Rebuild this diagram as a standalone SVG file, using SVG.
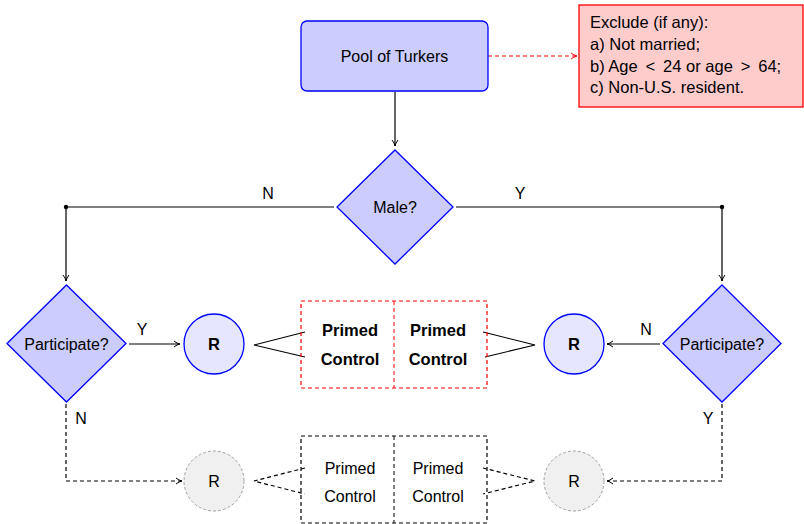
<svg xmlns="http://www.w3.org/2000/svg" width="804" height="524" viewBox="0 0 804 524">
<style>
text{font-family:"Liberation Sans",Arial,sans-serif;font-size:16px;fill:#000}
.c{text-anchor:middle;dominant-baseline:central}
.b{font-weight:bold;font-size:16.5px}
.ex{font-size:16.5px}
.dec{fill:#ccccff;stroke:#0000ff;stroke-width:1.3}
.rc{fill:#e6e6ff;stroke:#0000ff;stroke-width:1.3}
.rg{fill:#f0f0f0;stroke:#a0a0a0;stroke-width:1;stroke-dasharray:3,2}
.ln{fill:none;stroke:#000;stroke-width:1.2}
.dl{fill:none;stroke:#000;stroke-width:1.2;stroke-dasharray:4,3}
</style>
<defs>
<marker id="ah" viewBox="0 0 8 8" refX="7" refY="4" markerWidth="8" markerHeight="8" markerUnits="userSpaceOnUse" orient="auto">
<path d="M1,1 Q4,3.5 7,4 Q4,4.5 1,7" fill="none" stroke="#000" stroke-width="1"/>
</marker>
<marker id="ahr" viewBox="0 0 8 8" refX="7" refY="4" markerWidth="8" markerHeight="8" markerUnits="userSpaceOnUse" orient="auto">
<path d="M1,1 Q4,3.5 7,4 Q4,4.5 1,7" fill="none" stroke="#ff0000" stroke-width="1"/>
</marker>
</defs>
<g id="connectors">
<path class="ln" d="M395,92 V146" marker-end="url(#ah)"/>
<path d="M488,56 H577" fill="none" stroke="#ff0000" stroke-width="1.2" stroke-dasharray="4,3" marker-end="url(#ahr)"/>
<path class="ln" d="M334,207 H66 V281" stroke="#333" marker-end="url(#ah)"/>
<circle cx="66" cy="207" r="2.2" fill="#000"/>
<text class="c" x="268" y="193">N</text>
<path class="ln" d="M456,207 H722 V281" stroke="#333" marker-end="url(#ah)"/>
<circle cx="722" cy="207" r="2.2" fill="#000"/>
<text class="c" x="520" y="193">Y</text>
<path class="ln" d="M129,344 H180" marker-end="url(#ah)"/>
<text class="c" x="142" y="329">Y</text>
<path class="ln" d="M660,344 H607" marker-end="url(#ah)"/>
<text class="c" x="646" y="329">N</text>
<path class="ln" d="M305,332 L254,345 L305,357"/>
<path class="ln" d="M483,332 L535,345 L485,357"/>
<path class="dl" d="M66,404 V481 H182" marker-end="url(#ah)"/>
<text class="c" x="81" y="418">N</text>
<path class="dl" d="M722,404 V481 H607" marker-end="url(#ah)"/>
<text class="c" x="708" y="418">Y</text>
<path class="dl" d="M305,468 L254,481 L305,494"/>
<path class="dl" d="M483,468 L535,481 L483,494"/>
</g>
<g id="pool">
<rect x="301" y="21" width="187" height="70" rx="6" fill="#ccccff" stroke="#0000ff" stroke-width="1.3"/>
<text class="c" x="394.5" y="56">Pool of Turkers</text>
</g>
<g id="exclude">
<rect x="579" y="5" width="224" height="102" fill="#ffcccc" stroke="#ff0000" stroke-width="1.3"/>
<text class="ex" x="590" y="28">Exclude (if any):</text>
<text class="ex" x="590" y="50">a) Not married;</text>
<text class="ex" x="590" y="72">b) Age&#160;&#8201;&lt;&#160;&#8201;24 or age&#160;&#8201;&gt;&#160;&#8201;64;</text>
<text class="ex" x="590" y="93">c) Non-U.S. resident.</text>
</g>
<g id="male">
<path class="dec" d="M395,150 L453,207 L395,264 L337,207 Z"/>
<text class="c" x="395" y="207">Male?</text>
</g>
<g id="participate-left">
<path class="dec" d="M66.5,285 L126,343.5 L66.5,402 L7,343.5 Z"/>
<text class="c" x="66.5" y="344">Participate?</text>
</g>
<g id="participate-right">
<path class="dec" d="M722,285 L781,343.5 L722,402 L663,343.5 Z"/>
<text class="c" x="722" y="344">Participate?</text>
</g>
<g id="r-left">
<circle class="rc" cx="214" cy="344" r="30"/>
<text class="c b" x="214" y="344">R</text>
</g>
<g id="r-right">
<circle class="rc" cx="574" cy="344" r="30"/>
<text class="c b" x="574" y="344">R</text>
</g>
<g id="groups-top">
<rect x="301" y="301" width="186" height="87" fill="none" stroke="#ff0000" stroke-width="1.2" stroke-dasharray="4,3"/>
<line x1="394" y1="301" x2="394" y2="388" stroke="#ff0000" stroke-width="1" stroke-dasharray="4,3"/>
<text class="c b" x="350" y="330">Primed</text>
<text class="c b" x="350" y="359">Control</text>
<text class="c b" x="438" y="330">Primed</text>
<text class="c b" x="438" y="359">Control</text>
</g>
<g id="r-left-bottom">
<circle class="rg" cx="214" cy="481" r="30"/>
<text class="c" x="214" y="481">R</text>
</g>
<g id="r-right-bottom">
<circle class="rg" cx="574" cy="481" r="30"/>
<text class="c" x="574" y="481">R</text>
</g>
<g id="groups-bottom">
<rect x="301" y="436" width="186" height="87" fill="none" stroke="#000" stroke-width="1.2" stroke-dasharray="4,3"/>
<line x1="394" y1="436" x2="394" y2="523" stroke="#000" stroke-width="1" stroke-dasharray="4,3"/>
<text class="c" x="350" y="468">Primed</text>
<text class="c" x="350" y="496">Control</text>
<text class="c" x="438" y="468">Primed</text>
<text class="c" x="438" y="496">Control</text>
</g>
</svg>
